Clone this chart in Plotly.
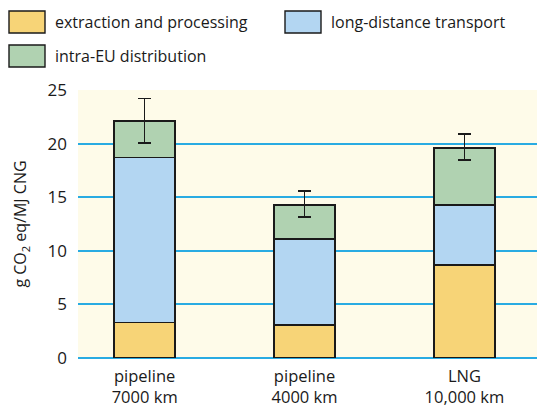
import plotly.graph_objects as go

categories = ["pipeline<br>7000 km", "pipeline<br>4000 km", "LNG<br>10,000 km"]
extraction = [3.3, 3.1, 8.7]
long_distance = [15.4, 8.0, 5.6]
intra_eu = [3.4, 3.2, 5.3]
err_plus = [2.1, 1.3, 1.3]
err_minus = [2.05, 1.15, 1.15]
series_names = ["extraction and processing", "long-distance transport", "intra-EU distribution"]
colors = ["#f7d477", "#b3d6f2", "#b0d2b1"]

W, H = 537, 409
L, R, T, B = 78, 0, 90, 51
FONT = "Open Sans"

fig = go.Figure()
xs = [0, 1, 2]
for vals, name, col, err in [
    (extraction, series_names[0], colors[0], None),
    (long_distance, series_names[1], colors[1], None),
    (intra_eu, series_names[2], colors[2], True),
]:
    kw = {}
    if err:
        kw["error_y"] = dict(type="data", symmetric=False, array=err_plus, arrayminus=err_minus,
                             color="#1a1a1a", thickness=1.6, width=6.5)
    fig.add_trace(go.Bar(x=xs, y=vals, name=name, width=0.383,
                         marker=dict(color=col, line=dict(color="#1a1a1a", width=1.6)),
                         showlegend=False, **kw))

# legend drawn manually
pw, ph = W - L - R, H - T - B
def px(x):
    return (x - L) / pw
def py(y):
    return (H - B - y) / ph

legend_pos = [(9, 11), (285, 11), (9, 45)]
for (lx, ly), name, col in zip(legend_pos, series_names, colors):
    fig.add_shape(type="rect", xref="paper", yref="paper",
                  x0=px(lx), x1=px(lx + 36), y0=py(ly), y1=py(ly + 22),
                  fillcolor=col, line=dict(color="#1a1a1a", width=1.4))
    fig.add_annotation(xref="paper", yref="paper", x=px(lx + 44), y=py(ly + 11),
                       text=name, showarrow=False, xanchor="left", yanchor="middle",
                       font=dict(family=FONT, size=16, color="#1a1a1a"))

fig.update_layout(
    barmode="stack",
    width=W, height=H,
    margin=dict(l=L, r=R, t=T, b=B, autoexpand=False),
    paper_bgcolor="white",
    plot_bgcolor="#fefbe9",
    font=dict(family=FONT, size=16, color="#1a1a1a"),
    bargap=0.6,
)
fig.update_xaxes(range=[-0.417, 2.454], tickvals=xs, ticktext=categories,
                 showgrid=False, zeroline=False, showline=False, ticks="",
                 ticklabelstandoff=6,
                 automargin=False, tickfont=dict(size=16.5))
fig.update_yaxes(range=[0, 25], dtick=5, showgrid=True, gridcolor="#29abe2", gridwidth=1.6,
                 zeroline=True, zerolinecolor="#29abe2", zerolinewidth=1.6,
                 showline=False, ticks="", ticklabelstandoff=10, automargin=False,
                 tickfont=dict(size=17),
                 title=dict(text="g CO<sub>2</sub> eq/MJ CNG", font=dict(size=16), standoff=16))

fig.write_html("out.html", config={"displayModeBar": False},
               post_script="document.body.style.margin='0';")
